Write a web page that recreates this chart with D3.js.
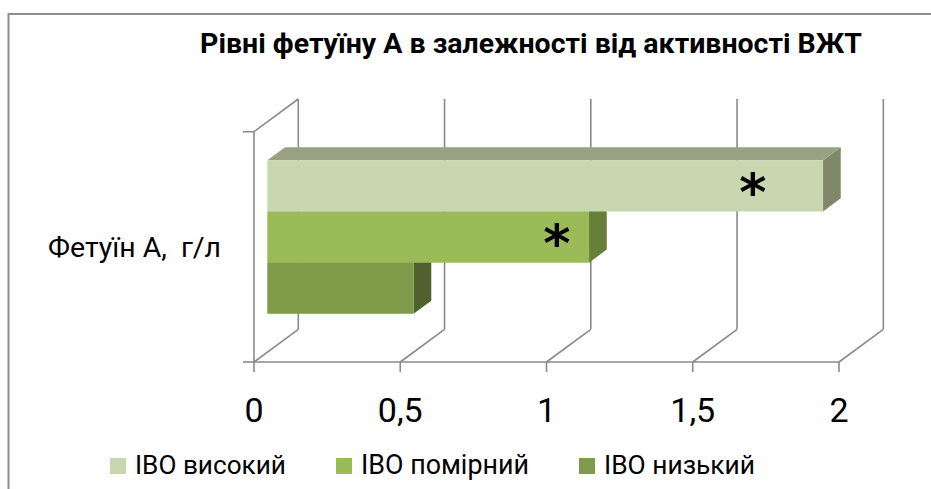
<!DOCTYPE html>
<html><head><meta charset="utf-8">
<script src="https://cdn.jsdelivr.net/npm/d3@7"></script>
<style>body{margin:0;background:#fff}svg{display:block}</style>
</head><body>
<svg id="chart" width="931" height="489"></svg>
<script>
const titleText = "Рівні фетуїну А в залежності від активності ВЖТ";
const categories = ["Фетуїн А,  г/л"];
const seriesNames = ["ІВО високий", "ІВО помірний", "ІВО низький"];
const seriesValues = [1.9, 1.1, 0.5];
const seriesMarkers = ["*", "*", ""];
const markerPositions = [1.66, 0.99, null];
const xTickValues = [0, 0.5, 1, 1.5, 2];
const xTickLabels = ["0", "0,5", "1", "1,5", "2"];
const frontColors = ["#C8D7AF", "#9BBB59", "#7F9A48"];
const topColors = ["#98A283", "#7A9446", "#62773A"];
const sideColors = ["#7F896A", "#677F38", "#4F612D"];

const FONT = "Roboto, 'Open Sans', sans-serif";
const svg = d3.select("#chart");
const GRID = "#8a8a8a";

const plot = {left: 254, right: 839, top: 131.7, bottom: 362};
const depth = {dx: 44.3, dy: -32.7};
const barDepth = [0.3, 0.7];

const x = d3.scaleLinear().domain([0, 2]).range([plot.left, plot.right]);
const yCat = d3.scaleBand().domain(categories).range([plot.top, plot.bottom]).padding(0);
const ySer = d3.scaleBand().domain(seriesNames).range([0, yCat.bandwidth()]).paddingInner(0).paddingOuter(0.75);

const P = (v, y, d) => [x(v) + d * depth.dx, y + d * depth.dy];
const line = d3.line();

function fitFont(sel, target) {
  sel.attr("font-size", 100);
  const w = sel.node().getComputedTextLength();
  sel.attr("font-size", 100 * target / w);
  return sel;
}

// outer frame
svg.append("rect").attr("x", 8.5).attr("y", 14).attr("width", 1000).attr("height", 1000)
  .attr("fill", "none").attr("stroke", "#8e8e8e").attr("stroke-width", 2);

// title
fitFont(svg.append("text").text(titleText)
  .attr("x", 531).attr("y", 53).attr("text-anchor", "middle")
  .attr("font-family", FONT).attr("font-weight", "bold").attr("fill", "#000"), 662);

// walls / gridlines
const g = svg.append("g").attr("stroke", GRID).attr("stroke-width", 1.6).attr("fill", "none");
xTickValues.forEach(t => {
  g.append("path").attr("d", line([P(t, plot.top, 1), P(t, plot.bottom, 1)]));
  g.append("path").attr("d", line([P(t, plot.bottom, 0), P(t, plot.bottom, 1)]));
  g.append("path").attr("d", line([P(t, plot.bottom, 0), [x(t), plot.bottom + 10]]));
});
g.append("path").attr("d", line([P(0, plot.top, 0), P(0, plot.bottom, 0)]));
g.append("path").attr("d", line([P(0, plot.top, 0), P(0, plot.top, 1)]));
g.append("path").attr("d", line([P(0, plot.bottom, 0), P(2, plot.bottom, 0)]));
[plot.top, plot.bottom].forEach(yv => {
  g.append("path").attr("d", line([[plot.left - 11, yv], [plot.left, yv]]));
});

// bars (lowest series drawn first)
const cat = categories[0];
const bars = svg.append("g");
d3.range(seriesNames.length).reverse().forEach(i => {
  const v = seriesValues[i];
  const y0 = yCat(cat) + ySer(seriesNames[i]);
  const y1 = y0 + ySer.bandwidth();
  const [d1, d2] = barDepth;
  bars.append("path").attr("fill", sideColors[i])
    .attr("d", line([P(v, y0, d1), P(v, y0, d2), P(v, y1, d2), P(v, y1, d1)]) + "Z");
  bars.append("path").attr("fill", topColors[i])
    .attr("d", line([P(0, y0, d1), P(v, y0, d1), P(v, y0, d2), P(0, y0, d2)]) + "Z");
  bars.append("path").attr("fill", frontColors[i])
    .attr("d", line([P(0, y0, d1), P(v, y0, d1), P(v, y1, d1), P(0, y1, d1)]) + "Z");
});

// significance markers
d3.range(seriesNames.length).forEach(i => {
  if (!seriesMarkers[i]) return;
  const yc = yCat(cat) + ySer(seriesNames[i]) + ySer.bandwidth() / 2;
  const [px, py] = P(markerPositions[i], yc, barDepth[0]);
  svg.append("text").text(seriesMarkers[i])
    .attr("x", px).attr("y", py + 24).attr("text-anchor", "middle")
    .attr("font-family", "'DejaVu Sans', sans-serif").attr("font-weight", "bold")
    .attr("font-size", 52).attr("fill", "#000");
});

// category label
fitFont(svg.append("text").text(cat).style("white-space", "pre")
  .attr("x", plot.left - 33).attr("y", yCat(cat) + yCat.bandwidth() / 2 + 10)
  .attr("text-anchor", "end").attr("font-family", FONT).attr("fill", "#000"), 173);

// x tick labels
xTickValues.forEach((t, k) => {
  svg.append("text").text(xTickLabels[k])
    .attr("x", x(t)).attr("y", plot.bottom + 60).attr("text-anchor", "middle")
    .attr("font-family", FONT).attr("font-size", 34).attr("fill", "#000");
});

// legend
const legendTargets = [151, 168, 151];
let lx = 110;
seriesNames.forEach((name, i) => {
  svg.append("rect").attr("x", lx).attr("y", 458).attr("width", 16).attr("height", 16).attr("fill", frontColors[i]);
  const t = svg.append("text").text(name).attr("x", lx + 25).attr("y", 474)
    .attr("font-family", FONT).attr("fill", "#000");
  fitFont(t, legendTargets[i]);
  lx += 25 + legendTargets[i] + 50;
});
</script>
</body></html>
